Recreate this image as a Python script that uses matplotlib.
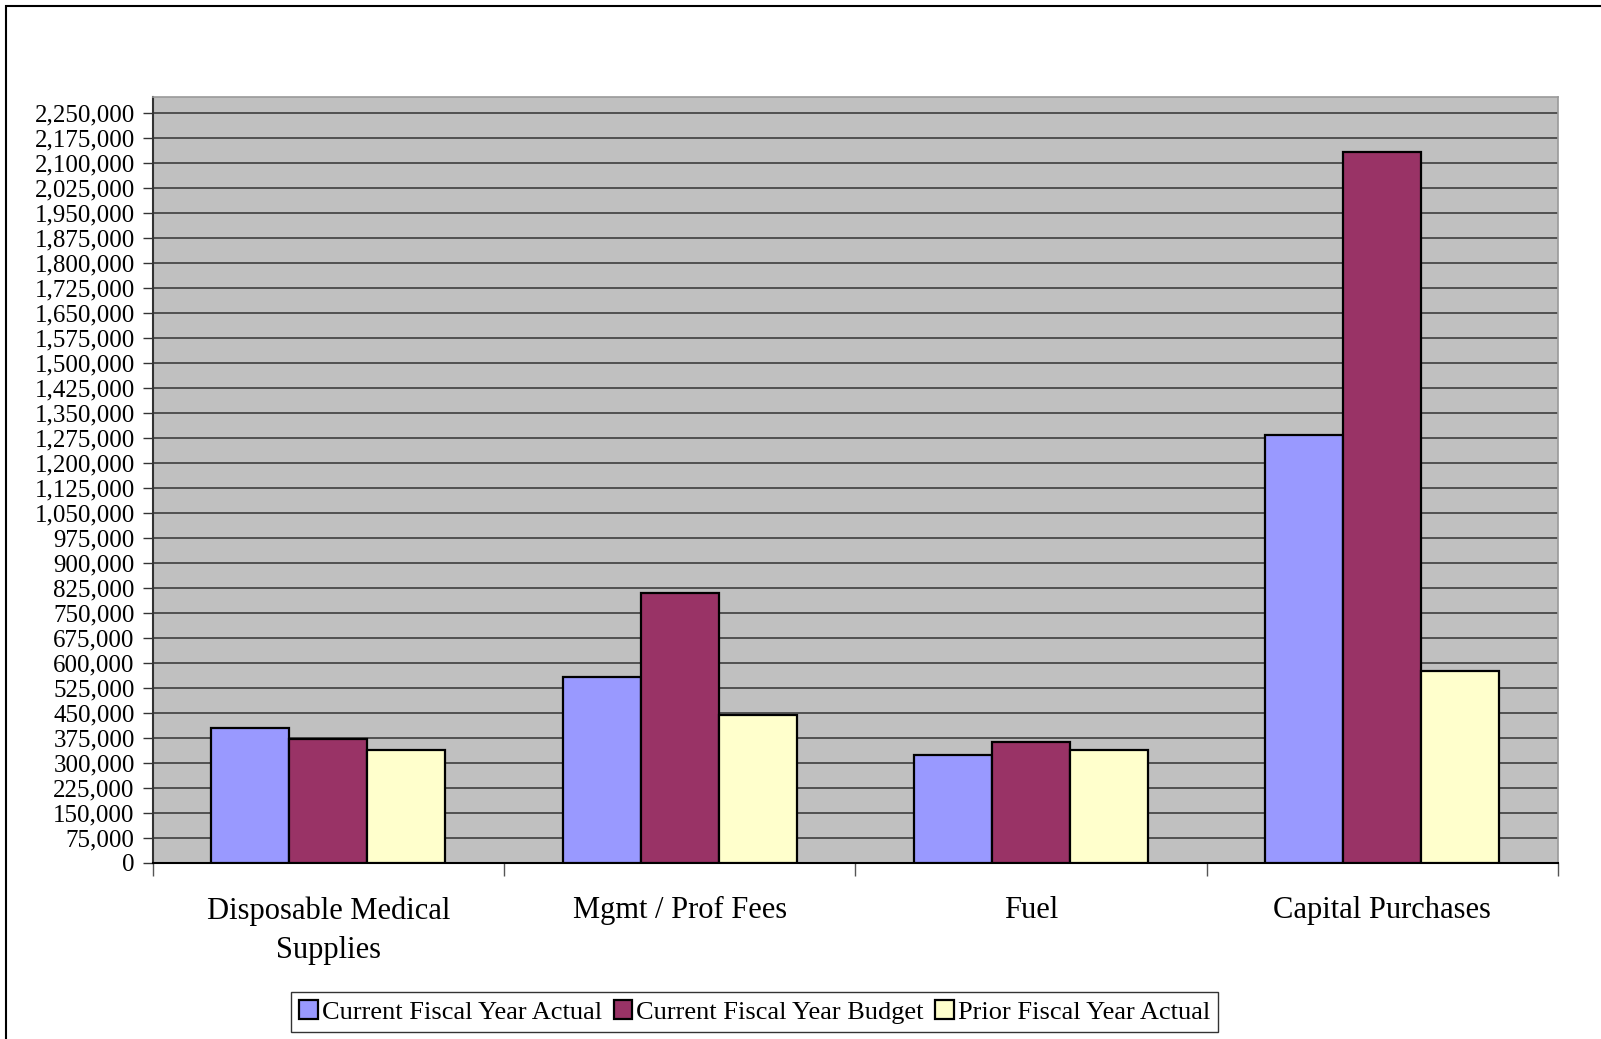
import numpy as np
import matplotlib
matplotlib.use("Agg")
import matplotlib.pyplot as plt
from matplotlib.patches import Rectangle
from matplotlib.ticker import FuncFormatter, MultipleLocator

plt.rcParams['font.family'] = ['Liberation Serif', 'DejaVu Serif']

categories = ['Disposable Medical\nSupplies', 'Mgmt / Prof Fees', 'Fuel', 'Capital Purchases']
series_names = ['Current Fiscal Year Actual', 'Current Fiscal Year Budget', 'Prior Fiscal Year Actual']
cur_actual = [404000, 558000, 322000, 1285000]
cur_budget = [371000, 808000, 363000, 2132000]
prior_actual = [337000, 442000, 337000, 576000]
colors = ['#9999FF', '#993366', '#FFFFCC']

fig = plt.figure(figsize=(16.01, 10.39), dpi=100)
ax = fig.add_axes([0.0954, 0.1697, 0.8777, 0.7369])
ax.set_facecolor('#C0C0C0')

x = np.arange(len(categories))
w = 2 / 9
for i, (vals, name, c) in enumerate(zip([cur_actual, cur_budget, prior_actual], series_names, colors)):
    ax.bar(x + (i - 1) * w, vals, w, color=c, edgecolor='black', linewidth=1.6,
           label=name, zorder=3)

ax.set_xlim(-0.5, 3.5)
ax.set_ylim(0, 2298000)
ax.yaxis.set_major_locator(MultipleLocator(75000))
ax.yaxis.set_major_formatter(FuncFormatter(lambda v, p: f'{int(v):,}'))
ax.grid(axis='y', color='#333333', linewidth=1.1, zorder=0)
ax.set_axisbelow(True)

ax.set_xticks(x)
ax.set_xticklabels(categories, fontsize=22, linespacing=1.48)
ax.tick_params(axis='x', which='major', length=0, pad=24)
ax.set_xticks(np.arange(-0.5, 4, 1), minor=True)
ax.tick_params(axis='x', which='minor', length=9, width=1, color='#555555')
ax.tick_params(axis='y', labelsize=18, length=7, width=1, color='#333333', pad=6)

for s in ['top', 'right']:
    ax.spines[s].set_color('#9a9a9a')
    ax.spines[s].set_linewidth(1.2)
ax.spines['left'].set_color('#333333')
ax.spines['left'].set_linewidth(1.5)
ax.spines['bottom'].set_color('black')
ax.spines['bottom'].set_linewidth(1.5)

leg = fig.legend(loc='center', bbox_to_anchor=(0.4713, 0.026), ncol=3, fontsize=19,
                 frameon=True, fancybox=False, edgecolor='black', handlelength=0.7,
                 handleheight=0.7, handletextpad=0.15, columnspacing=0.45,
                 borderpad=0.3, borderaxespad=0)
leg.get_frame().set_linewidth(1.0)

# outer chart border
fig.patches.append(Rectangle((0.0035, -0.01), 1.2, 1.004, transform=fig.transFigure,
                             fill=False, edgecolor='black', linewidth=1.5))

fig.savefig('out.png', dpi=100)
